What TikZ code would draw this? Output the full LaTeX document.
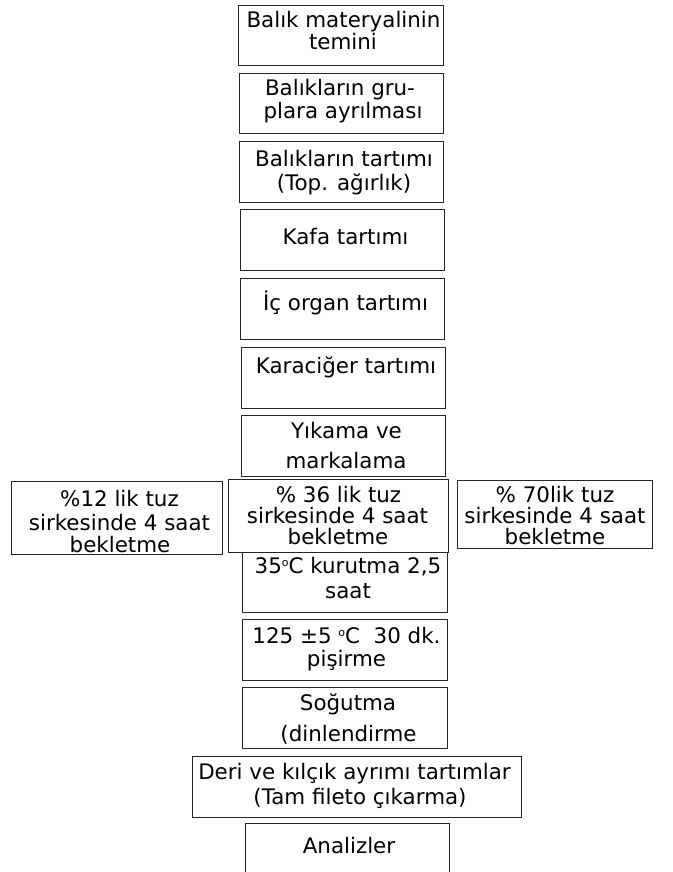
\documentclass[tikz,border=0pt]{standalone}
\usepackage{fontspec}
\setmainfont{DejaVu Sans}
\newcommand\degsym{\raisebox{0.55ex}{\fontsize{11}{11}\selectfont o}}
\begin{document}
\begin{tikzpicture}[x=1pt,y=-1pt,
  box/.style={draw=black!85, line width=1.2pt, inner sep=0pt, anchor=north west},
  txt/.style={anchor=base, inner sep=0pt, font=\fontsize{21.4}{24}\selectfont, text=black}]
\useasboundingbox (0,0) rectangle (672,872);
\clip (0,0) rectangle (672,872);
\newcommand\bx[5]{\node[box, minimum width={#4-#2}, minimum height={#5-#3}] (#1) at (#2,#3) {};}
% boxes
\bx{b1}{238}{5}{443}{65}
\bx{b2}{239}{73}{443}{133}
\bx{b3}{239}{141}{443}{202}
\bx{b4}{240}{209}{444}{270}
\bx{b5}{240}{278}{444}{339}
\bx{b6}{241}{347}{445}{408}
\bx{b7}{241}{415}{445}{476}
\bx{bl}{11}{481}{222}{554}
\bx{bm}{228}{479}{448}{552}
\bx{br}{457}{480}{652}{548}
\bx{b8}{242}{552}{447}{612}
\bx{b9}{242}{619}{447}{680}
\bx{b10}{242}{687}{447}{748}
\bx{b11}{192}{756}{521}{817}
\bx{b12}{245}{823}{449}{900}
% texts
\node[txt] (t1a) at (343.5,28) {Balık materyalinin};
\node[txt] (t1b) at (343,50) {temini};
\node[txt] (t2a) at (340,96) {Balıkların gru-};
\node[txt] (t2b) at (343,119) {plara ayrılması};
\node[txt] (t3a) at (344,166) {Balıkların tartımı};
\node[txt] (t3b) at (344,190) {(Top. ağırlık)};
\node[txt] (t4) at (345.5,244) {Kafa tartımı};
\node[txt] (t5) at (345.5,310) {İç organ tartımı};
\node[txt] (t6) at (346,373) {Karaciğer tartımı};
\node[txt] (t7a) at (346.5,438) {Yıkama ve};
\node[txt] (t7b) at (346,468) {markalama};
\node[txt] (tla) at (119.5,506) {\%12 lik tuz};
\node[txt] (tlb) at (119.5,530) {sirkesinde 4 saat};
\node[txt] (tlc) at (120,552) {bekletme};
\node[txt] (tma) at (338.5,502) {\% 36 lik tuz};
\node[txt] (tmb) at (337.5,523) {sirkesinde 4 saat};
\node[txt] (tmc) at (338,544) {bekletme};
\node[txt] (tra) at (555,502) {\% 70lik tuz};
\node[txt] (trb) at (555,523) {sirkesinde 4 saat};
\node[txt] (trc) at (555,544) {bekletme};
\node[txt] (t8a) at (348,573) {35\degsym C kurutma 2,5};
\node[txt] (t8b) at (348,598) {saat};
\node[txt] (t9a) at (346.5,643) {125 ±5 \degsym C\ \ 30 dk.};
\node[txt] (t9b) at (346.5,666) {pişirme};
\node[txt] (t10a) at (348,710) {Soğutma};
\node[txt] (t10b) at (348.5,741) {(dinlendirme};
\node[txt] (t11a) at (354.5,779) {Deri ve kılçık ayrımı tartımlar};
\node[txt] (t11b) at (360,804) {(Tam fileto çıkarma)};
\node[txt] (t12) at (349,853) {Analizler};
\end{tikzpicture}
\end{document}
